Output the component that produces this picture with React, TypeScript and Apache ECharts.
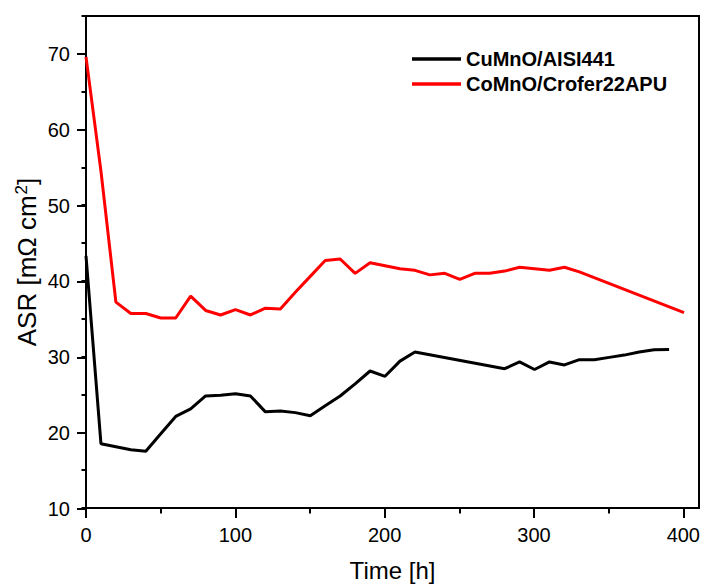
import React, { useEffect, useRef } from "react";
import * as echarts from "echarts";

const timeBlack = [0, 10, 20, 30, 40, 50, 60, 70, 80, 90, 100, 110, 120, 130, 140, 150, 160, 170, 180, 190, 200, 210, 220, 280, 290, 300, 310, 320, 330, 340, 350, 360, 370, 380, 390];
const asrBlack = [43.3, 18.5, 18.1, 17.7, 17.5, 19.8, 22.1, 23.1, 24.8, 24.9, 25.1, 24.8, 22.7, 22.8, 22.6, 22.2, 23.5, 24.8, 26.4, 28.1, 27.4, 29.4, 30.6, 28.4, 29.3, 28.3, 29.3, 28.9, 29.6, 29.6, 29.9, 30.2, 30.6, 30.9, 30.95];

const timeRed = [0, 10, 20, 30, 40, 50, 60, 70, 80, 90, 100, 110, 120, 130, 140, 150, 160, 170, 180, 190, 200, 210, 220, 230, 240, 250, 260, 270, 280, 290, 300, 310, 320, 330, 400];
const asrRed = [69.6, 54.5, 37.2, 35.7, 35.7, 35.1, 35.1, 38.0, 36.1, 35.5, 36.2, 35.5, 36.4, 36.3, 38.5, 40.6, 42.7, 42.9, 41.0, 42.4, 42.0, 41.6, 41.4, 40.8, 41.0, 40.2, 41.0, 41.0, 41.3, 41.8, 41.6, 41.4, 41.8, 41.2, 35.8];

const seriesNames = ["CuMnO/AISI441", "CoMnO/Crofer22APU"];
const seriesColors = ["#000000", "#ff0000"];

const FONT = 'Arial, "Liberation Sans", sans-serif';

export default function App() {
  const ref = useRef<HTMLDivElement>(null);
  useEffect(() => {
    if (!ref.current) return;
    const chart = echarts.init(ref.current, null, { renderer: "svg" });
    const pairs = (xs: number[], ys: number[]) => xs.map((x, i) => [x, ys[i]]);
    const axisLineStyle = { lineStyle: { color: "#000", width: 2 } };
    const tickStyle = { color: "#000", width: 2 };
    chart.setOption({
      animation: false,
      backgroundColor: "#fff",
      textStyle: { fontFamily: FONT },
      grid: [
        { left: 86, top: 16, right: 4, bottom: 78, show: true, borderColor: "#000", borderWidth: 2, backgroundColor: "transparent" },
        { left: 86, top: 53.9, right: 18.7, bottom: 78 },
      ],
      xAxis: [
        {
          type: "value", gridIndex: 0, min: 0, max: 410,
          axisLine: { show: true, ...axisLineStyle },
          axisTick: { show: false },
          axisLabel: { show: false },
          splitLine: { show: false },
          name: "Time [h]", nameLocation: "middle", nameGap: 50,
          nameTextStyle: { fontSize: 24, color: "#000", fontFamily: FONT },
        },
        {
          type: "value", gridIndex: 1, min: 0, max: 400, interval: 100,
          axisLine: { show: false },
          axisTick: { show: true, inside: false, length: 9, lineStyle: tickStyle },
          minorTick: { show: true, splitNumber: 2, length: 4.5, lineStyle: tickStyle },
          axisLabel: { show: true, margin: 16, fontSize: 20, color: "#000", fontFamily: FONT },
          splitLine: { show: false },
        },
      ],
      yAxis: [
        {
          type: "value", gridIndex: 0, min: 10, max: 75, interval: 5,
          axisLine: { show: true, ...axisLineStyle },
          axisTick: { show: true, length: 4.5, lineStyle: tickStyle },
          axisLabel: { show: false },
          splitLine: { show: false },
          name: "{a|ASR [mΩ cm}{s|2}{a|]}", nameLocation: "middle", nameGap: 45,
          nameTextStyle: {
            color: "#000",
            fontFamily: FONT,
            rich: {
              a: { fontSize: 26, color: "#000", fontFamily: FONT },
              s: { fontSize: 17, color: "#000", fontFamily: FONT, padding: [0, 0, 11, 1] },
            },
          },
        },
        {
          type: "value", gridIndex: 1, min: 10, max: 70, interval: 10,
          axisLine: { show: false },
          axisTick: { show: true, length: 9, lineStyle: tickStyle },
          axisLabel: { show: true, margin: 16, fontSize: 20, color: "#000", fontFamily: FONT },
          splitLine: { show: false },
        },
      ],
      legend: {
        orient: "vertical",
        left: 412,
        top: 49,
        padding: 0,
        itemWidth: 49,
        itemHeight: 3.5,
        itemGap: 5,
        icon: "rect",
        textStyle: { fontSize: 20, fontWeight: "bold", color: "#000", fontFamily: FONT },
        data: seriesNames.map((n, i) => ({ name: n, itemStyle: { color: seriesColors[i] } })),
      },
      series: [
        {
          name: seriesNames[0], type: "line", xAxisIndex: 0, yAxisIndex: 0,
          data: pairs(timeBlack, asrBlack), showSymbol: false, symbol: "none",
          lineStyle: { color: seriesColors[0], width: 3 }, itemStyle: { color: seriesColors[0] },
        },
        {
          name: seriesNames[1], type: "line", xAxisIndex: 0, yAxisIndex: 0,
          data: pairs(timeRed, asrRed), showSymbol: false, symbol: "none",
          lineStyle: { color: seriesColors[1], width: 3 }, itemStyle: { color: seriesColors[1] },
        },
      ],
    });
    return () => chart.dispose();
  }, []);
  return <div ref={ref} style={{ width: 703, height: 587, position: "absolute", left: 0, top: 0 }} />;
}
